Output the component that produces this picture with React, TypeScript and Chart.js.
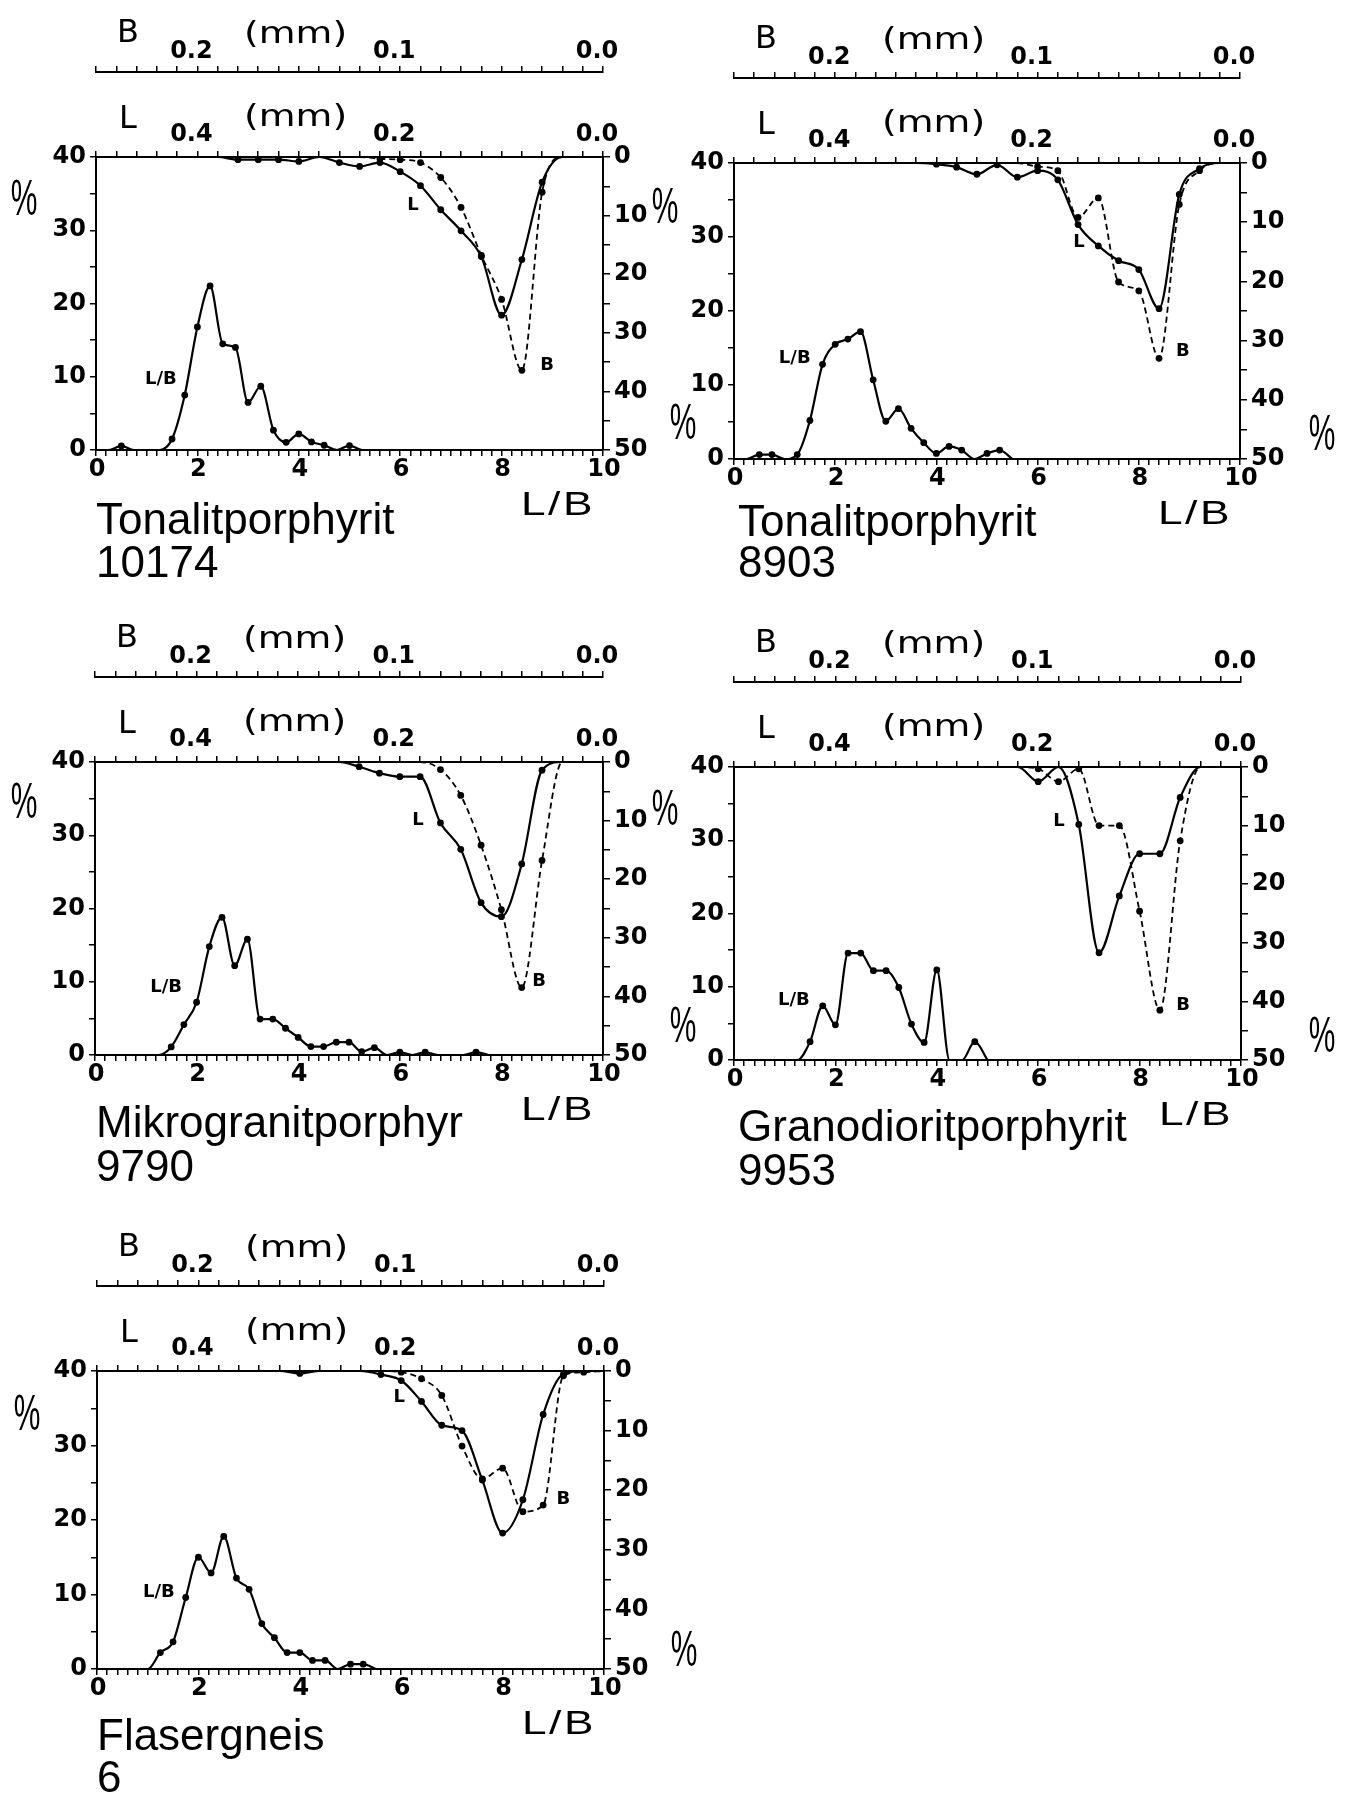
import React, { useEffect, useRef } from 'react';
import { Chart, registerables } from 'chart.js';

Chart.register(...registerables);

// ---------------- tick labels ----------------
const lbTickLabels = ['0', '2', '4', '6', '8', '10'];
const leftPctTickLabels = ['0', '10', '20', '30', '40'];
const rightPctTickLabels = ['0', '10', '20', '30', '40', '50'];
const lMmTickLabels = ['0.4', '0.2', '0.0'];
const bMmTickLabels = ['0.2', '0.1', '0.0'];

// ---------------- Panel 1: Tonalitporphyrit 10174 ----------------
const p1LbX = [0, 0.25, 0.5, 0.75, 1, 1.25, 1.5, 1.75, 2, 2.25, 2.5, 2.75, 3, 3.25, 3.5, 3.75, 4, 4.25, 4.5, 4.75, 5, 5.25, 5.5];
const p1LbY = [0, 0, 0.55, 0, 0, 0, 1.5, 7.5, 16.8, 22.4, 14.5, 14.0, 6.5, 8.7, 2.7, 1.05, 2.2, 1.1, 0.65, 0, 0.6, 0, 0];
const p1LMm = [0.5, 0.38, 0.36, 0.34, 0.32, 0.3, 0.28, 0.26, 0.24, 0.22, 0.2, 0.18, 0.16, 0.14, 0.12, 0.1, 0.08, 0.06, 0.04, 0.02, 0];
const p1LPct = [0, 0, 0.45, 0.45, 0.45, 0.75, 0, 0.95, 1.6, 0.95, 2.5, 4.9, 9.0, 12.6, 17.0, 27.0, 17.5, 4.3, 0, 0, 0];
const p1BMm = [0.13, 0.12, 0.11, 0.1, 0.09, 0.08, 0.07, 0.06, 0.05, 0.04, 0.03, 0.02, 0.01];
const p1BPct = [0, 0, 0.3, 0.45, 0.95, 3.5, 8.6, 16.8, 24.3, 36.4, 6.0, 0, 0];

// ---------------- Panel 2: Tonalitporphyrit 8903 ----------------
const p2LbX = [0, 0.25, 0.5, 0.75, 1, 1.25, 1.5, 1.75, 2, 2.25, 2.5, 2.75, 3, 3.25, 3.5, 3.75, 4, 4.25, 4.5, 4.75, 5, 5.25, 5.5];
const p2LbY = [0, 0, 0.6, 0.6, 0, 0.6, 5.2, 12.8, 15.5, 16.2, 17.2, 10.7, 5.1, 6.8, 4.15, 2.2, 0.75, 1.7, 1.2, 0, 0.75, 1.2, 0];
const p2LMm = [0.34, 0.32, 0.3, 0.28, 0.26, 0.24, 0.22, 0.2, 0.18, 0.16, 0.14, 0.12, 0.1, 0.08, 0.06, 0.04, 0.02, 0];
const p2LPct = [0, 0, 0.2, 0.7, 1.9, 0.3, 2.4, 1.3, 2.85, 10.4, 14.0, 16.5, 18.0, 24.6, 5.3, 0.95, 0, 0];
const p2BMm = [0.12, 0.11, 0.1, 0.09, 0.08, 0.07, 0.06, 0.05, 0.04, 0.03, 0.02, 0.01, 0];
const p2BPct = [0, 0, 0.6, 1.3, 9.2, 5.9, 20.1, 21.6, 33.0, 7.0, 1.3, 0, 0];

// ---------------- Panel 3: Mikrogranitporphyr 9790 ----------------
const p3LbX = [0, 1.25, 1.5, 1.75, 2, 2.25, 2.5, 2.75, 3, 3.25, 3.5, 3.75, 4, 4.25, 4.5, 4.75, 5, 5.25, 5.5, 5.75, 6, 6.25, 6.5, 6.75, 7.25, 7.5, 7.75];
const p3LbY = [0, 0, 1.1, 4.15, 7.2, 14.8, 18.8, 12.2, 15.8, 4.9, 4.9, 3.65, 2.4, 1.15, 1.15, 1.75, 1.75, 0.45, 1.0, 0, 0.4, 0, 0.4, 0, 0, 0.4, 0];
const p3LMm = [0.28, 0.26, 0.24, 0.22, 0.2, 0.18, 0.16, 0.14, 0.12, 0.1, 0.08, 0.06, 0.04, 0.02, 0];
const p3LPct = [0, 0, 0.8, 1.9, 2.5, 2.5, 10.4, 14.9, 24.0, 26.4, 17.4, 1.4, 0, 0, 0];
const p3BMm = [0.1, 0.09, 0.08, 0.07, 0.06, 0.05, 0.04, 0.03, 0.02, 0.01, 0];
const p3BPct = [0, 0, 1.3, 5.7, 14.2, 25.2, 38.5, 16.8, 0, 0, 0];

// ---------------- Panel 4: Granodioritporphyrit 9953 ----------------
const p4LbX = [0, 1.25, 1.5, 1.75, 2, 2.25, 2.5, 2.75, 3, 3.25, 3.5, 3.75, 4, 4.25, 4.5, 4.75, 5];
const p4LbY = [0, 0, 2.5, 7.4, 4.8, 14.6, 14.6, 12.2, 12.2, 9.9, 4.9, 2.4, 12.3, 0, 0, 2.5, 0];
const p4LMm = [0.24, 0.22, 0.2, 0.18, 0.16, 0.14, 0.12, 0.1, 0.08, 0.06, 0.04, 0.02, 0];
const p4LPct = [0, 0, 2.5, 0, 9.8, 31.7, 22.0, 14.8, 14.8, 5.2, 0, 0, 0];
const p4BMm = [0.11, 0.1, 0.09, 0.08, 0.07, 0.06, 0.05, 0.04, 0.03, 0.02, 0.01, 0];
const p4BPct = [0, 0.3, 2.5, 0.3, 10.0, 10.0, 24.6, 41.5, 12.6, 0, 0, 0];

// ---------------- Panel 5: Flasergneis 6 ----------------
const p5LbX = [0, 1, 1.25, 1.5, 1.75, 2, 2.25, 2.5, 2.75, 3, 3.25, 3.5, 3.75, 4, 4.25, 4.5, 4.75, 5, 5.25, 5.5];
const p5LbY = [0, 0, 2.2, 3.65, 9.6, 15.0, 12.9, 17.8, 12.2, 10.7, 6.1, 4.2, 2.2, 2.2, 1.15, 1.15, 0, 0.65, 0.65, 0];
const p5LMm = [0.34, 0.32, 0.3, 0.28, 0.26, 0.24, 0.22, 0.2, 0.18, 0.16, 0.14, 0.12, 0.1, 0.08, 0.06, 0.04, 0.02, 0];
const p5LPct = [0, 0, 0.4, 0, 0, 0, 0.6, 1.6, 5.1, 9.1, 10.0, 18.3, 27.2, 21.6, 7.3, 0.5, 0, 0];
const p5BMm = [0.12, 0.11, 0.1, 0.09, 0.08, 0.07, 0.06, 0.05, 0.04, 0.03, 0.02, 0.01, 0];
const p5BPct = [0, 0, 0.2, 1.3, 4.1, 12.6, 18.1, 16.3, 23.6, 22.5, 0.8, 0.2, 0];

// ---------------- layout ----------------
const ML = 90; // left axis box
const MR = 110; // right axis box
const MT = 160; // both top axes
const TOP_L = 85; // L (mm) axis box height
const MB = 140; // bottom area

type Panel = {
  id: number;
  left: number; top: number; w: number; h: number;
  title: string[]; titleX: number; titleY: number[];
  lb: number[][]; l: number[][]; b: number[][];
  tags: { lb: number[]; l: number[]; b: number[] };
  pct: number[][];
};

const panels: Panel[] = [
  {
    id: 1, left: 96, top: 157, w: 507, h: 293,
    title: ['Tonalitporphyrit', '10174'], titleX: 96, titleY: [534, 577],
    lb: [p1LbX, p1LbY], l: [p1LMm, p1LPct], b: [p1BMm, p1BPct],
    tags: { lb: [1.28, 9.6], l: [6.25, 33.4], b: [8.9, 11.6] },
    pct: [[24, 197]],
  },
  {
    id: 2, left: 734, top: 163, w: 506, h: 296,
    title: ['Tonalitporphyrit', '8903'], titleX: 738, titleY: [536, 577],
    lb: [p2LbX, p2LbY], l: [p2LMm, p2LPct], b: [p2BMm, p2BPct],
    tags: { lb: [1.2, 13.6], l: [6.82, 29.3], b: [8.87, 14.5] },
    pct: [[665, 205], [683, 421], [1322, 432]],
  },
  {
    id: 3, left: 95, top: 762, w: 508, h: 293,
    title: ['Mikrogranitporphyr', '9790'], titleX: 96, titleY: [1137, 1181],
    lb: [p3LbX, p3LbY], l: [p3LMm, p3LPct], b: [p3BMm, p3BPct],
    tags: { lb: [1.4, 9.3], l: [6.36, 32.1], b: [8.74, 10] },
    pct: [[24, 800]],
  },
  {
    id: 4, left: 734, top: 767, w: 507, h: 293,
    title: ['Granodioritporphyrit', '9953'], titleX: 738, titleY: [1141, 1185],
    lb: [p4LbX, p4LbY], l: [p4LMm, p4LPct], b: [p4BMm, p4BPct],
    tags: { lb: [1.18, 8.2], l: [6.41, 32.6], b: [8.86, 7.5] },
    pct: [[665, 807], [683, 1024], [1322, 1034]],
  },
  {
    id: 5, left: 97, top: 1371, w: 507, h: 298,
    title: ['Flasergneis', '6'], titleX: 97, titleY: [1750, 1792],
    lb: [p5LbX, p5LbY], l: [p5LMm, p5LPct], b: [p5BMm, p5BPct],
    tags: { lb: [1.22, 10.3], l: [5.96, 36.5], b: [9.2, 22.8] },
    pct: [[27, 1412], [684, 1648]],
  },
];

function labelFor(list: string[], v: number): string {
  const hit = list.find((s) => Math.abs(parseFloat(s) - v) < 1e-6);
  return hit ?? '';
}

const tickFont = { family: '"DejaVu Sans", sans-serif', size: 24, weight: 'bold', lineHeight: 1 };
const border = { display: true, color: '#000', width: 2 };
const grid = (tl: number) => ({
  display: true, drawOnChartArea: false, drawTicks: true, tickLength: tl, color: '#000', lineWidth: 1.5,
});

function series(xs: number[], ys: number[], xAxisID: string, yAxisID: string, dashed: boolean) {
  return {
    data: xs.map((x, i) => ({ x, y: ys[i] })),
    xAxisID,
    yAxisID,
    borderColor: '#000',
    borderWidth: dashed ? 1.8 : 2.2,
    borderDash: dashed ? [6, 4] : [],
    pointRadius: (c: any) => (c.raw && c.raw.y > 0 ? 3.4 : 0),
    pointBackgroundColor: '#000',
    pointBorderWidth: 0,
    pointHoverRadius: 0,
    cubicInterpolationMode: 'monotone',
    fill: false,
  };
}

function scaledText(ctx: CanvasRenderingContext2D, text: string, x: number, y: number, sx: number) {
  ctx.save();
  ctx.translate(x, y);
  ctx.scale(sx, 1);
  ctx.fillText(text, 0, 0);
  ctx.restore();
}

function makeTextPlugin(p: Panel) {
  return {
    id: 'panelText' + p.id,
    afterDraw(chart: any) {
      const ctx = chart.ctx as CanvasRenderingContext2D;
      const c: any = ctx;
      const ca = chart.chartArea;
      const ox = p.left - ML;
      const oy = p.top - MT;
      const sx = chart.scales.x;
      const sy = chart.scales.y;
      ctx.save();
      ctx.fillStyle = '#000';
      ctx.textBaseline = 'alphabetic';
      c.letterSpacing = '0px';

      // axis names above the mm scales
      ctx.font = '32px "DejaVu Sans", sans-serif';
      ctx.textAlign = 'center';
      ctx.fillText('B', ca.left + 32, ca.top - 115);
      ctx.fillText('L', ca.left + 32, ca.top - 29);
      ctx.textAlign = 'left';
      ctx.font = '30px "DejaVu Sans", sans-serif';
      scaledText(ctx, '(mm)', ca.left + 148, ca.top - 114, 1.26);
      scaledText(ctx, '(mm)', ca.left + 148, ca.top - 31, 1.26);

      // L/B axis title
      ctx.font = '34px "Liberation Sans", sans-serif';
      c.letterSpacing = '2px';
      ctx.textAlign = 'center';
      scaledText(ctx, 'L/B', ca.right - 45, ca.bottom + 65, 1.3);
      c.letterSpacing = '0px';

      // curve tags
      ctx.font = 'bold 18px "DejaVu Sans", sans-serif';
      ctx.textBaseline = 'middle';
      ctx.textAlign = 'center';
      ctx.fillText('L/B', sx.getPixelForValue(p.tags.lb[0]), sy.getPixelForValue(p.tags.lb[1]));
      ctx.fillText('L', sx.getPixelForValue(p.tags.l[0]), sy.getPixelForValue(p.tags.l[1]));
      ctx.fillText('B', sx.getPixelForValue(p.tags.b[0]), sy.getPixelForValue(p.tags.b[1]));

      // sample names
      ctx.textBaseline = 'alphabetic';
      ctx.textAlign = 'left';
      ctx.font = '44px "Liberation Sans", sans-serif';
      p.title.forEach((t, i) => ctx.fillText(t, p.titleX - ox, p.titleY[i] - oy));

      // percent signs
      ctx.font = '50px "Liberation Sans", sans-serif';
      ctx.textAlign = 'center';
      for (const [px, py] of p.pct) {
        scaledText(ctx, '%', px - ox, py - oy + 18, 0.6);
      }
      ctx.restore();
    },
  };
}

function PanelChart({ p }: { p: Panel }) {
  const ref = useRef<HTMLCanvasElement>(null);
  const cw = ML + p.w + MR;
  const ch = MT + p.h + MB;
  useEffect(() => {
    const cfg: any = {
      type: 'line',
      data: {
        datasets: [
          series(p.lb[0], p.lb[1], 'x', 'y', false),
          series(p.l[0], p.l[1], 'xL', 'yR', false),
          series(p.b[0], p.b[1], 'xB', 'yR', true),
        ],
      },
      options: {
        responsive: false,
        animation: false,
        devicePixelRatio: 1,
        events: [],
        layout: { padding: 0, autoPadding: false },
        plugins: { legend: { display: false }, tooltip: { enabled: false }, title: { display: false } },
        scales: {
          x: {
            type: 'linear', position: 'bottom', min: 0, max: 10,
            border, grid: grid(6),
            ticks: {
              stepSize: 0.2, autoSkip: false, maxRotation: 0, minRotation: 0, padding: 2,
              font: tickFont, color: '#000', labelOffset: 1,
              callback: (v: number) => labelFor(lbTickLabels, v),
            },
            afterFit: (s: any) => { s.height = MB; },
          },
          y: {
            type: 'linear', position: 'left', min: 0, max: 40,
            border, grid: grid(6),
            ticks: {
              stepSize: 5, autoSkip: false, padding: 4, font: tickFont, color: '#000',
              callback: (v: number) => labelFor(leftPctTickLabels, v),
            },
            afterFit: (s: any) => { s.width = ML; },
          },
          yR: {
            type: 'linear', position: 'right', min: 0, max: 50, reverse: true,
            border, grid: grid(7),
            ticks: {
              stepSize: 5, autoSkip: false, padding: 4, font: tickFont, color: '#000',
              callback: (v: number) => labelFor(rightPctTickLabels, v),
            },
            afterFit: (s: any) => { s.width = MR; },
          },
          xL: {
            type: 'linear', position: 'top', min: 0, max: 0.5, reverse: true, weight: 0,
            border, grid: grid(6),
            ticks: {
              stepSize: 0.02, autoSkip: false, maxRotation: 0, minRotation: 0, padding: 4,
              labelOffset: -6, font: tickFont, color: '#000',
              callback: (v: number) => labelFor(lMmTickLabels, v),
            },
            afterFit: (s: any) => { s.height = TOP_L; },
          },
          xB: {
            type: 'linear', position: 'top', min: 0, max: 0.25, reverse: true, weight: 10,
            border, grid: grid(6),
            ticks: {
              stepSize: 0.01, autoSkip: false, maxRotation: 0, minRotation: 0, padding: 2,
              labelOffset: -6, font: tickFont, color: '#000',
              callback: (v: number) => labelFor(bMmTickLabels, v),
            },
            afterFit: (s: any) => { s.height = MT - TOP_L; },
          },
        },
      },
      plugins: [makeTextPlugin(p)],
    };
    const chart = new Chart(ref.current as HTMLCanvasElement, cfg);
    return () => chart.destroy();
  }, [p]);
  return (
    <canvas
      ref={ref}
      width={cw}
      height={ch}
      style={{ position: 'absolute', left: p.left - ML, top: p.top - MT, width: cw, height: ch }}
    />
  );
}

export default function App() {
  return (
    <div
      style={{
        position: 'absolute', left: 0, top: 0, width: 1355, height: 1796,
        overflow: 'hidden', background: '#fff',
      }}
    >
      {panels.map((p) => (
        <PanelChart key={p.id} p={p} />
      ))}
    </div>
  );
}
